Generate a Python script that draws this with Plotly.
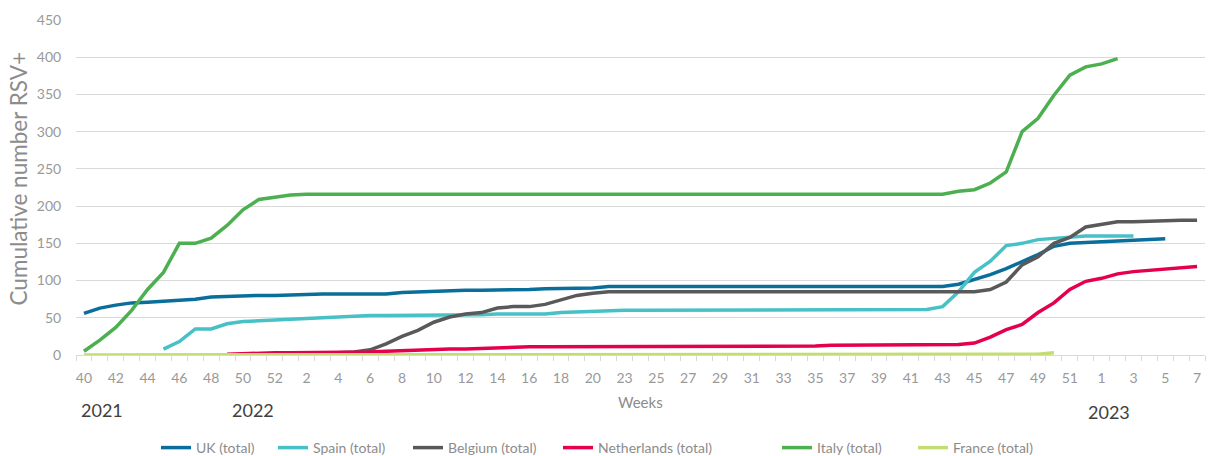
import plotly.graph_objects as go

# ---- categories (ISO weeks) ----
years = [2021] * 13 + [2022] * 51 + [2023] * 7
weeks = list(range(40, 53)) + list(range(1, 22)) + list(range(23, 53)) + list(range(1, 8))
categories = [f"{y}-W{w:02d}" for y, w in zip(years, weeks)]
tick_labels = [str(w) for w in weeks]

N = len(categories)

def pad(start, vals):
    out = [None] * start + list(vals)
    return out + [None] * (N - len(out))

uk = pad(0, [56, 63, 67, 70, 71, 72, 73, 75, 78, 79, 80, 80, 80,
             81, 82, 82, 82, 82, 82, 82, 84, 85, 85, 86, 87, 87, 87, 88, 88, 89, 89, 90, 90, 92]
         + [92] * 21
         + [95, 101, 108, 116, 125, 135, 146, 150, 151, 152, 152, 154, 155, 156])

spain = pad(5, [8, 18, 35, 35, 42, 45, 46, 47,
                49, 50, 51, 52, 53, 53, 53, 53, 53, 53, 54, 54, 54, 55, 55, 55, 55, 57, 58, 59, 60]
            + [60] * 17
            + [60, 61, 61, 65, 85, 111, 126, 147, 150, 155, 157, 159, 160, 160, 160, 160])

belgium = pad(9, [0, 0, 1, 1,
                  1, 2, 2, 3, 4, 7, 15, 25, 33, 44, 51, 55, 57, 63, 65, 65, 68, 74, 80, 83, 85]
              + [85] * 23
              + [88, 98, 121, 132, 150, 158, 172, 176, 179, 179, 180, 181, 181, 181, 181])

netherlands = pad(9, [1, 2, 2, 3,
                      3, 3, 3, 3, 4, 4, 5, 6, 7, 8, 8, 8, 9, 9, 10, 11, 11, 11, 11, 11, 11, 11, 11]
                  + [12] * 11 + [13] * 8
                  + [14, 16, 24, 34, 41, 57, 70, 88, 99, 103, 109, 112, 114, 115, 117, 119])

italy = pad(0, [5, 20, 37, 60, 88, 111, 150, 150, 157, 174, 195, 209, 212, 215]
            + [216] * 41
            + [220, 222, 231, 246, 300, 318, 349, 376, 387, 391, 398])

france = pad(0, [0] * 60 + [1, 3])

series_names = ["UK (total)", "Spain (total)", "Belgium (total)",
                "Netherlands (total)", "Italy (total)", "France (total)"]
series_values = [uk, spain, belgium, netherlands, italy, france]
series_colors = ["#0A6E9B", "#47C1C6", "#595959", "#E4004B", "#4CAF50", "#C4DD72"]
legend_widths = [72, 90, 105, 174, 91, 95]

FONT = "Lato, 'Open Sans', sans-serif"
GRAY = "#8C8C8C"

fig = go.Figure()
for name, vals, color, lw in zip(series_names, series_values, series_colors, legend_widths):
    fig.add_trace(go.Scatter(x=categories, y=vals, name=name, mode="lines",
                             line=dict(color=color, width=3.5), connectgaps=False,
                             legendwidth=lw))

# invisible trace carrying the boundary tick marks axis
fig.add_trace(go.Scatter(x=categories, y=[None] * N, xaxis="x2", showlegend=False,
                         hoverinfo="skip", mode="lines"))

fig.update_layout(
    width=1208, height=456,
    margin=dict(l=76, r=3, t=20, b=101, autoexpand=False),
    plot_bgcolor="white", paper_bgcolor="white",
    font=dict(family=FONT, color=GRAY, size=14),
    xaxis=dict(type="category", categoryorder="array", categoryarray=categories,
               range=[-0.5, N - 0.5],
               tickmode="array", tickvals=categories[::2], ticktext=tick_labels[::2],
               ticks="outside", ticklen=10, tickcolor="rgba(0,0,0,0)",
               tickfont=dict(size=14, color="#999999"),
               showgrid=False, zeroline=False, showline=False),
    xaxis2=dict(type="category", categoryorder="array", categoryarray=categories,
                overlaying="x", side="bottom", range=[-0.5, N - 0.5],
                tickmode="array", tickvals=categories, tickson="boundaries",
                ticks="outside", ticklen=5, tickcolor="#D9D9D9", tickwidth=1,
                showticklabels=False, showgrid=False, zeroline=False, showline=False),
    yaxis=dict(range=[0, 450], dtick=50, tick0=0,
               showgrid=True, gridcolor="#D9D9D9", gridwidth=1,
               zeroline=True, zerolinecolor="#D9D9D9", zerolinewidth=1,
               ticks="outside", ticklen=11, tickcolor="rgba(0,0,0,0)",
               tickfont=dict(size=14, color="#999999"), showline=False),
    legend=dict(orientation="h", x=(156 - 76) / 1129, xanchor="left",
                y=(355 - 448) / 335, yanchor="middle",
                font=dict(size=14, color=GRAY), itemwidth=30, tracegroupgap=0),
    showlegend=True,
)

annotations = [
    dict(text="Cumulative number RSV+", x=(17.5 - 76) / 1129, y=(355 - 179) / 335,
         xref="paper", yref="paper",
         textangle=-90, showarrow=False, font=dict(size=22.5, color=GRAY),
         xanchor="center", yanchor="middle"),
    dict(text="Weeks", x=(640 - 76) / 1129, y=(355 - 402) / 335, xref="paper", yref="paper",
         showarrow=False, font=dict(size=15, color=GRAY), xanchor="center", yanchor="middle"),
    dict(text="2021", x=(102 - 76) / 1129, y=(355 - 410) / 335, xref="paper", yref="paper",
         showarrow=False, font=dict(size=18, color="#404040"), xanchor="center", yanchor="middle"),
    dict(text="2022", x=(253 - 76) / 1129, y=(355 - 410) / 335, xref="paper", yref="paper",
         showarrow=False, font=dict(size=18, color="#404040"), xanchor="center", yanchor="middle"),
    dict(text="2023", x=(1109 - 76) / 1129, y=(355 - 412) / 335, xref="paper", yref="paper",
         showarrow=False, font=dict(size=18, color="#404040"), xanchor="center", yanchor="middle"),
]
fig.update_layout(annotations=annotations)

fig.write_html("out.html", config={"displayModeBar": False},
               post_script="document.body.style.margin='0px';")
